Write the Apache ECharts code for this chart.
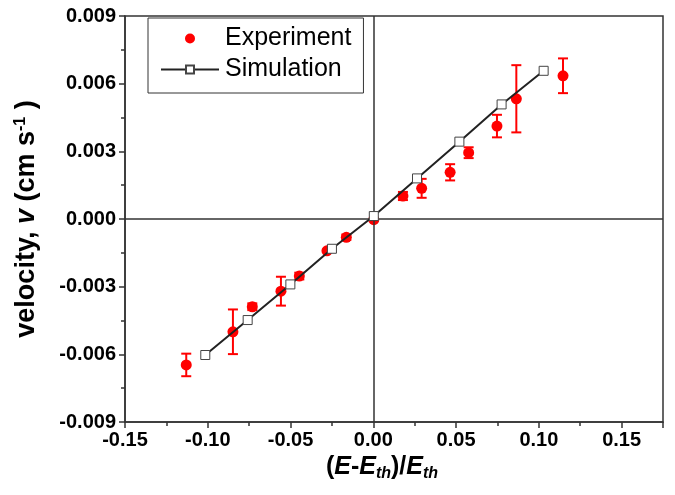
<!DOCTYPE html>
<html>
<head>
<meta charset="utf-8">
<script src="https://cdn.jsdelivr.net/npm/echarts@6/dist/echarts.min.js"></script>
<style>html,body{margin:0;padding:0;background:#fff}#c{width:675px;height:495px}</style>
</head>
<body>
<div id="c"></div>
<script>
var expX = [-0.113, -0.0848, -0.0731, -0.0558, -0.0447, -0.028, -0.0163, 0.0003, 0.0179, 0.0292, 0.0464, 0.0576, 0.0747, 0.0864, 0.1146];
var expY = [-0.00647, -0.00500, -0.00389, -0.00320, -0.00253, -0.00141, -0.00081, -0.00003, 0.00102, 0.00136, 0.00207, 0.00294, 0.00412, 0.00533, 0.00635];
var expErr = [0.0005, 0.00099, 0.00015, 0.00064, 0.00015, 0.00005, 0.00012, 0.00002, 0.00018, 0.00042, 0.00036, 0.00024, 0.0005, 0.00149, 0.00077];
var simX = [-0.1015, -0.0759, -0.0501, -0.025, 0.0003, 0.0264, 0.052, 0.0775, 0.1029];
var simY = [-0.00603, -0.00448, -0.0029, -0.00132, 0.00013, 0.0018, 0.00343, 0.00508, 0.00657];
var xTicks = [-0.15, -0.10, -0.05, 0.00, 0.05, 0.10, 0.15];
var yTicks = [-0.009, -0.006, -0.003, 0.000, 0.003, 0.006, 0.009];

var FONT = '"Liberation Sans", Arial, sans-serif';
var chart = echarts.init(document.getElementById('c'), null, {renderer: 'canvas'});

var expData = expX.map(function (x, i) { return [x, expY[i]]; });
var errData = expX.map(function (x, i) { return [x, expY[i] - expErr[i], expY[i] + expErr[i]]; });
var simData = simX.map(function (x, i) { return [x, simY[i]]; });

var option = {
  animation: false,
  backgroundColor: '#fff',
  grid: {left: 125, right: 12, top: 16, bottom: 73, show: true, borderColor: '#333', borderWidth: 1.5, backgroundColor: 'transparent'},
  legend: {
    orient: 'vertical', left: 148, top: 18,
    borderColor: '#333', borderWidth: 1, padding: [8, 12, 11, 12],
    itemWidth: 58, itemHeight: 10, itemGap: 6,
    textStyle: {fontFamily: FONT, fontSize: 25, color: '#000', padding: [0, 0, 0, 1]},
    data: [
      {name: 'Experiment'},
      {name: 'Simulation'}
    ]
  },
  xAxis: {
    type: 'value', min: -0.15, max: 0.175, interval: 0.05,
    splitLine: {show: false},
    axisLine: {onZero: false, lineStyle: {color: '#333', width: 1.5}},
    axisTick: {inside: false, length: 6, lineStyle: {color: '#333', width: 1.5}},
    minorTick: {show: true, splitNumber: 2, length: 4, lineStyle: {color: '#333', width: 1.5}},
    axisLabel: {
      showMaxLabel: false, fontFamily: FONT, fontWeight: 'bold', fontSize: 20, color: '#000', margin: 8,
      formatter: function (v) {
        for (var i = 0; i < xTicks.length; i++) if (Math.abs(v - xTicks[i]) < 1e-9) return xTicks[i].toFixed(2);
        return '';
      }
    },
    name: '{b|(}{i|E}{b|-}{i|E}{s|th}{b|)/}{i|E}{s|th}',
    nameLocation: 'middle', nameGap: 30,
    nameTextStyle: {
      align: 'center',
      padding: [0, 24, 0, 0],
      rich: {
        b: {fontFamily: FONT, fontWeight: 'bold', fontSize: 25, color: '#000'},
        i: {fontFamily: FONT, fontWeight: 'bold', fontStyle: 'italic', fontSize: 25, color: '#000'},
        s: {fontFamily: FONT, fontWeight: 'bold', fontStyle: 'italic', fontSize: 16, color: '#000', verticalAlign: 'bottom', padding: [12, 0, 0, 0]}
      }
    }
  },
  yAxis: {
    type: 'value', min: -0.009, max: 0.009, interval: 0.003,
    splitLine: {show: false},
    axisLine: {onZero: false, lineStyle: {color: '#333', width: 1.5}},
    axisTick: {inside: false, length: 6, lineStyle: {color: '#333', width: 1.5}},
    minorTick: {show: true, splitNumber: 2, length: 4, lineStyle: {color: '#333', width: 1.5}},
    axisLabel: {
      fontFamily: FONT, fontWeight: 'bold', fontSize: 20, color: '#000', margin: 9,
      formatter: function (v) {
        for (var i = 0; i < yTicks.length; i++) if (Math.abs(v - yTicks[i]) < 1e-9) return yTicks[i].toFixed(3);
        return '';
      }
    },
    name: '{b|velocity, }{i|v}{b| (cm s}{s|-1}{b| )}',
    nameLocation: 'middle', nameGap: 84, nameRotate: 90,
    nameTextStyle: {
      rich: {
        b: {fontFamily: FONT, fontWeight: 'bold', fontSize: 27, color: '#000'},
        i: {fontFamily: FONT, fontWeight: 'bold', fontStyle: 'italic', fontSize: 27, color: '#000'},
        s: {fontFamily: FONT, fontWeight: 'bold', fontSize: 16, color: '#000', verticalAlign: 'top', padding: [0, 0, 12, 0]}
      }
    }
  },
  series: [
    {
      type: 'line', name: 'zero', data: [], silent: true, z: 1,
      markLine: {
        silent: true, symbol: ['none', 'none'], label: {show: false},
        lineStyle: {color: '#333', width: 1.5, type: 'solid'},
        data: [{xAxis: 0}, {yAxis: 0}]
      }
    },
    {
      type: 'custom', name: 'err', z: 3,
      data: errData,
      renderItem: function (params, api) {
        var x = api.value(0);
        var lo = api.coord([x, api.value(1)]);
        var hi = api.coord([x, api.value(2)]);
        var w = 5;
        var st = {stroke: '#ff0000', lineWidth: 2};
        return {
          type: 'group', children: [
            {type: 'line', shape: {x1: lo[0], y1: lo[1], x2: hi[0], y2: hi[1]}, style: st},
            {type: 'line', shape: {x1: lo[0] - w, y1: lo[1], x2: lo[0] + w, y2: lo[1]}, style: st},
            {type: 'line', shape: {x1: hi[0] - w, y1: hi[1], x2: hi[0] + w, y2: hi[1]}, style: st}
          ]
        };
      }
    },
    {
      type: 'scatter', name: 'Experiment', z: 4,
      data: expData, symbol: 'circle', symbolSize: 11,
      itemStyle: {color: '#ff0000', opacity: 1}
    },
    {
      type: 'line', name: 'Simulation', z: 5,
      data: simData, symbol: 'rect', symbolSize: 9, showAllSymbol: true,
      lineStyle: {color: '#222', width: 2},
      itemStyle: {color: '#fff', borderColor: '#444', borderWidth: 1}
    }
  ]
};
chart.setOption(option);
</script>
</body>
</html>
